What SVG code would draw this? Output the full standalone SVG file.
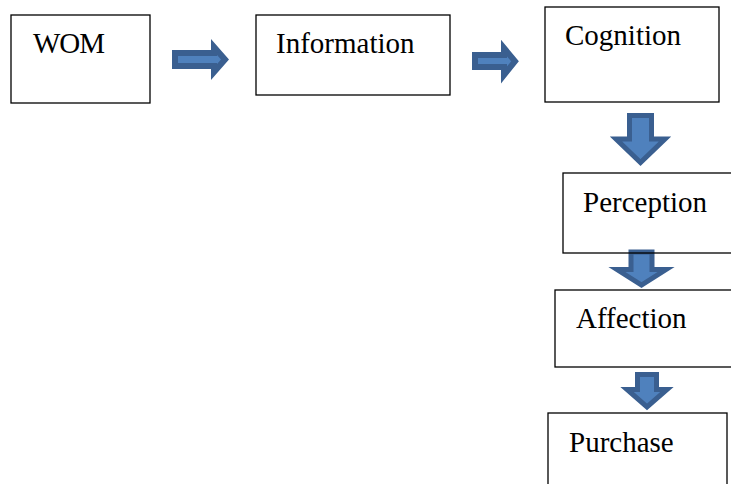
<svg xmlns="http://www.w3.org/2000/svg" width="731" height="484" viewBox="0 0 731 484">
<style>
.box{fill:none;stroke:#000;stroke-width:1.3}
.arr{fill:#4F81BD;stroke:#3A5F90;stroke-linejoin:miter;stroke-miterlimit:10}
.h{stroke-width:6}
.v{stroke-width:5}
</style>
<rect width="731" height="484" fill="#fff"/>
<g id="connectors">
<path class="arr h" d="M175,53 L214,53 L214,47 L225,59.5 L214,72 L214,66 L175,66 Z"/>
<path class="arr h" d="M475,55 L504,55 L504,48 L515,61.3 L504,75 L504,67 L475,67 Z"/>
<path class="arr v" d="M629.5,115.5 H651.5 V139 H665 L640.5,162.5 L616,139 H629.5 Z"/>
<path class="arr v" d="M631,252 H652 V269.5 H666 L641.5,285 L617,269.5 H631 Z"/>
<path class="arr v" d="M637.5,374.5 H656.5 V389.5 H667 L647,407 L627,389.5 H637.5 Z"/>
</g>
<g font-family="'Liberation Serif', 'DejaVu Serif', serif" font-size="29" fill="#000">
<g id="wom"><rect class="box" x="11" y="15" width="139" height="88"/><text x="33" y="53" textLength="72">WOM</text></g>
<g id="information"><rect class="box" x="256" y="15" width="194" height="80"/><text x="276" y="53">Information</text></g>
<g id="cognition"><rect class="box" x="545" y="7" width="174" height="95"/><text x="565" y="45">Cognition</text></g>
<g id="perception"><rect class="box" x="563" y="173" width="180" height="80"/><text x="583" y="212">Perception</text></g>
<g id="affection"><rect class="box" x="555" y="290" width="190" height="77"/><text x="576" y="328">Affection</text></g>
<g id="purchase"><rect class="box" x="548" y="413" width="179" height="100"/><text x="569" y="452">Purchase</text></g>
</g>
</svg>
